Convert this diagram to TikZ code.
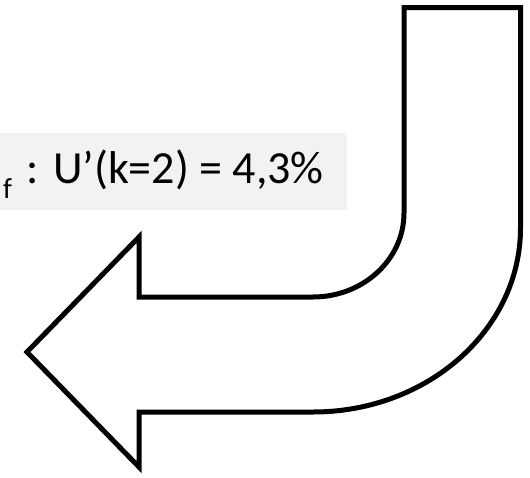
\documentclass[tikz,border=0pt]{standalone}
\usepackage{fontspec}
\setmainfont{Carlito}
\usepackage{xcolor}
\usepackage{tikz}
\usetikzlibrary{positioning,calc}

\begin{document}
\begin{tikzpicture}[
    x=1pt, y=1pt,
    uturn/.style={draw=black, fill=white, line width=5pt, line join=miter},
    valuebox/.style={rectangle, fill=gray!10, inner xsep=23pt, inner ysep=0pt, text height=50pt, text depth=27pt, font=\fontsize{46}{46}\selectfont}
]
    \useasboundingbox (0,0) rectangle (530,-477);

    % value label, cut at the left edge
    \node [valuebox, anchor=base east] (val) at (347,-183)
        {\raisebox{-15pt}{\fontsize{29}{29}\selectfont f}\hspace{15pt}: U’(k=2) = 4,3\%};

    % u-turn arrow
    \draw [uturn] (404,-7.5) -- (520.5,-7.5) -- (520.5,-228)
        arc [start angle=0, end angle=-90, x radius=207.5, y radius=184]
        -- (139,-412) -- (139,-467) -- (27,-352) -- (139,-237) -- (139,-297) -- (313,-297)
        arc [start angle=-90, end angle=0, x radius=91, y radius=84]
        -- cycle;
\end{tikzpicture}
\end{document}
